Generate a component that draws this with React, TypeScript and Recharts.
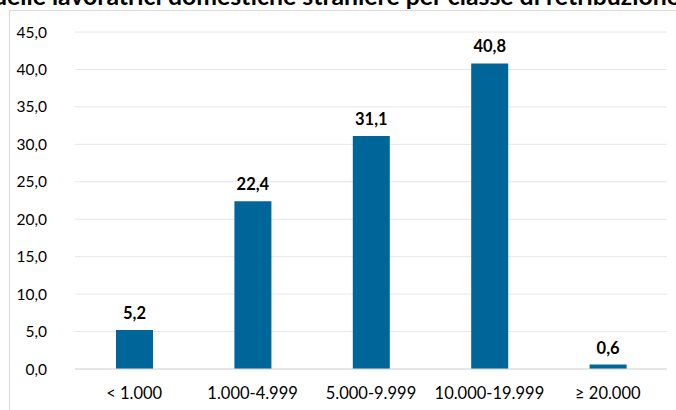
import { Bar, BarChart, CartesianGrid, LabelList, XAxis, YAxis } from "recharts"

const categories = ["< 1.000", "1.000-4.999", "5.000-9.999", "10.000-19.999", "≥ 20.000"]
const shares = [5.2, 22.4, 31.1, 40.8, 0.6]
const yTicks = [0, 5, 10, 15, 20, 25, 30, 35, 40, 45]
const title = "Distribuzione delle lavoratrici domestiche straniere per classe di retribuzione"

const data = categories.map((name, i) => ({ name, value: shares[i] }))

const fmt = (v: number) => v.toFixed(1).replace(".", ",")

export default function App() {
    return (
        <div style={{ position: "relative", width: 676, height: 410, background: "#fff", overflow: "hidden", fontFamily: "Lato, sans-serif" }}>
            <style>{`body{margin:0}`}</style>
            <div style={{ position: "absolute", left: 9, top: 10, width: 720, height: 440, border: "1px solid #d9d9d9", boxSizing: "border-box" }} />
            {/* title is clipped at the top edge like in the source image */}
            <div style={{ position: "absolute", left: 0, top: 0, width: 676, height: 9, overflow: "hidden" }}>
                <div style={{ position: "absolute", right: -4, top: -19, whiteSpace: "nowrap", fontWeight: 700, fontSize: 24.8, color: "#000" }}>
                    {title}
                </div>
            </div>
            <div style={{ position: "absolute", left: 0, top: 0 }}>
                <BarChart width={676} height={410} data={data} margin={{ top: 32, right: 9, bottom: 11, left: 0 }}>
                    <CartesianGrid vertical={false} stroke="#e6e6e6" />
                    <XAxis
                        dataKey="name"
                        height={30}
                        tickLine={false}
                        tickSize={0}
                        tickMargin={18}
                        axisLine={{ stroke: "#d9d9d9" }}
                        tick={{ fontSize: 16.5, fill: "#000", fontFamily: "Lato" }}
                        interval={0}
                    />
                    <YAxis
                        width={75}
                        domain={[0, 45]}
                        ticks={yTicks}
                        tickFormatter={fmt}
                        tickLine={false}
                        axisLine={false}
                        tickSize={0}
                        tickMargin={28}
                        tick={{ fontSize: 15.5, fill: "#000", fontFamily: "Lato" }}
                    />
                    <Bar dataKey="value" fill="#006699" barSize={37} isAnimationActive={false}>
                        <LabelList
                            dataKey="value"
                            position="top"
                            offset={11}
                            formatter={(v: any) => fmt(Number(v))}
                            style={{ fontSize: 16.5, fontWeight: 700, fill: "#000", fontFamily: "Lato" }}
                        />
                    </Bar>
                </BarChart>
            </div>
        </div>
    )
}
